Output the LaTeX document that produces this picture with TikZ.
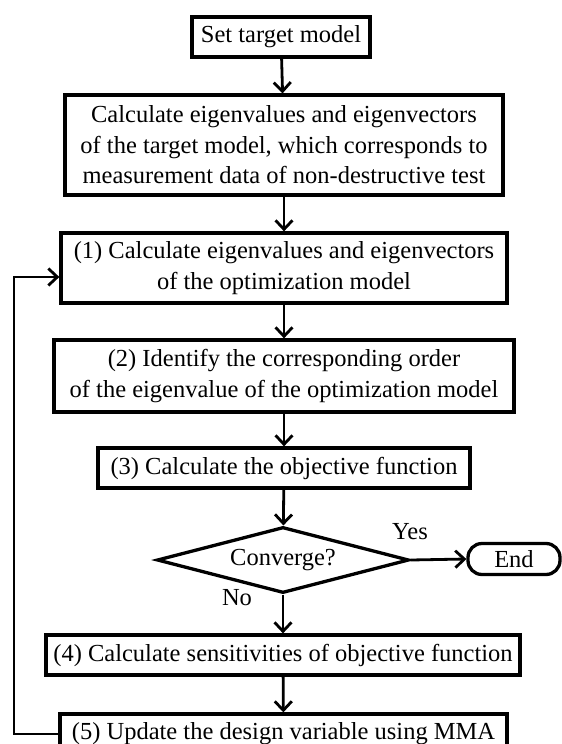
\documentclass[tikz,border=0pt]{standalone}
\usepackage{fontspec}
\setmainfont{Liberation Serif}
\usetikzlibrary{arrows.meta,shapes.geometric}
\begin{document}
\begin{tikzpicture}[x=1pt,y=-1pt,
  every node/.style={font=\fontsize{24.5}{30.5}\selectfont, align=center, inner sep=0pt},
  proc/.style={draw, line width=3.3pt, rectangle},
  decide/.style={draw, line width=3.3pt, diamond, aspect=3.8},
  term/.style={draw, line width=3.3pt, rectangle, rounded corners=14pt},
  flow/.style={line width=2.8pt, -{Straight Barb[length=9pt,width=17pt,line width=2.8pt]}},
  lbl/.style={}]
  \useasboundingbox (0,0) rectangle (562,744);

  \node[proc, minimum width=178pt, minimum height=40pt] (n0) at (281,37) {Set target model};
  \node[proc, minimum width=438pt, minimum height=100pt] (n1) at (284,145)
    {Calculate eigenvalues and eigenvectors\\of the target model, which corresponds to\\measurement data of non-destructive test};
  \node[proc, minimum width=446pt, minimum height=70pt] (n2) at (284,268)
    {(1) Calculate eigenvalues and eigenvectors\\of the optimization model};
  \node[proc, minimum width=460pt, minimum height=72pt] (n3) at (284,376)
    {(2) Identify the corresponding order\\of the eigenvalue of the optimization model};
  \node[proc, minimum width=372pt, minimum height=40pt] (n4) at (284,468)
    {(3) Calculate the objective function};
  \node[decide, minimum width=252pt, minimum height=66pt] (d) at (283,560) {Converge?};
  \node[term, minimum width=92pt, minimum height=31pt] (end) at (514,559) {End};
  \node[proc, minimum width=474pt, minimum height=40pt] (n5) at (283,655)
    {(4) Calculate sensitivities of objective function};
  \node[proc, minimum width=447pt, minimum height=40pt] (n6) at (283.5,734)
    {(5) Update the design variable using MMA};

  \node[lbl] (yes) at (410,532) {Yes};
  \node[lbl] (no) at (237,598) {No};

  \draw[flow] (n0) -- (n1);
  \draw[flow] (n1) -- (n2);
  \draw[flow] (n2) -- (n3);
  \draw[flow] (n3) -- (n4);
  \draw[flow] (n4) -- (d);
  \draw[flow] (d.east) -- (end.west);
  \draw[flow] (d.south) -- (n5.north);
  \draw[flow] (n5) -- (n6);
  \coordinate (back) at (14,734);
  \draw[flow] (n6.west) -- (back) |- ([yshift=-9pt]n2.west);
\end{tikzpicture}
\end{document}
